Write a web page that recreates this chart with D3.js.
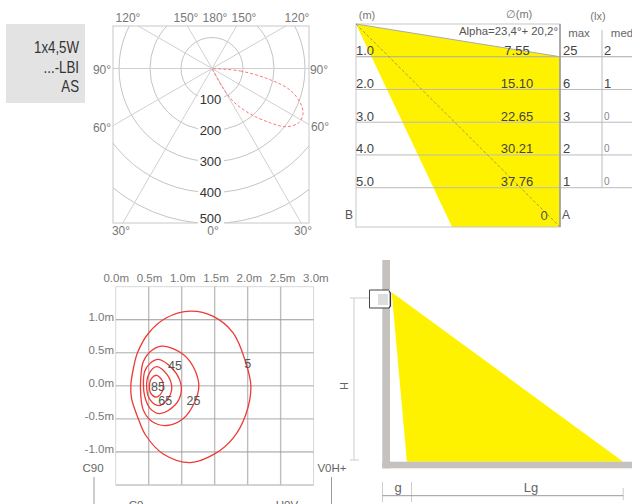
<!DOCTYPE html>
<html>
<head>
<meta charset="utf-8">
<script src="https://cdn.jsdelivr.net/npm/d3@7"></script>
<style>
  html, body { margin: 0; padding: 0; background: #fff; overflow: hidden; }
  text { font-family: "Liberation Sans", Arial, sans-serif; fill: #4a4a4a; }
</style>
</head>
<body>
<svg id="chart" width="632" height="504"></svg>
<script>
// product tag
const productLines = ['1x4,5W', '...-LBI', 'AS'];

// polar diagram (cd)
const polarRings = [100, 200, 300, 400, 500];
const polarSpokes = [30, 60, 90, 120, 150];
const polarLobe = [
  [90, 0], [85, 92], [79, 192], [74.5, 262], [69, 304], [64, 327], [58, 330],
  [52, 305], [47, 257], [40, 191], [33, 128], [29, 67], [20, 0]
];

// distance table
const distances = [1, 2, 3, 4, 5];
const diameters = ['7.55', '15.10', '22.65', '30.21', '37.76'];
const luxMax = [25, 6, 3, 2, 1];
const luxMed = [2, 1, 0, 0, 0];
const beamDepth = 6.2;
const beamShape = [[6.2, 0], [0, 1], [0, 6.2], [3.28, 6.2]];

// isolux plan (m)
const planX = [0, 0.5, 1, 1.5, 2, 2.5, 3];
const planY = [1, 0.5, 0, -0.5, -1];
const iso5 = [[1.13, 1.13], [1.48, 1.05], [1.78, 0.8], [1.96, 0.39], [2.05, -0.01], [1.97, -0.44], [1.78, -0.79], [1.5, -1.03], [1.13, -1.16], [0.72, -1.03], [0.45, -0.74], [0.34, -0.49], [0.24, -0.19], [0.23, 0.02], [0.27, 0.27], [0.33, 0.5], [0.5, 0.8], [0.77, 1.03]];
const iso25 = [[0.72, 0.6], [1.03, 0.47], [1.2, 0.24], [1.26, -0.01], [1.2, -0.24], [1.03, -0.49], [0.77, -0.6], [0.55, -0.54], [0.42, -0.37], [0.38, -0.14], [0.38, 0.12], [0.42, 0.37], [0.55, 0.54]];
const iso45 = [[0.65, 0.4], [0.85, 0.27], [0.97, 0.09], [0.99, -0.11], [0.9, -0.29], [0.67, -0.42], [0.52, -0.34], [0.44, -0.16], [0.42, 0.02], [0.44, 0.22], [0.52, 0.34]];
const iso65 = [[0.62, 0.29], [0.78, 0.17], [0.85, -0.04], [0.78, -0.21], [0.65, -0.3], [0.52, -0.21], [0.47, -0.04], [0.5, 0.17]];
const iso85 = [[0.62, 0.16], [0.71, 0.07], [0.72, -0.04], [0.67, -0.14], [0.61, -0.17], [0.53, -0.11], [0.51, 0], [0.54, 0.11]];
const isoLines = [iso5, iso25, iso45, iso65, iso85];
const isoLabels = [['5', 2.0, 0.33], ['25', 1.18, -0.23], ['45', 0.9, 0.3], ['65', 0.75, -0.23], ['85', 0.64, -0.01]];

// side view, in units of mounting height
const sideG = 0.09;
const sideL = 1.37;

const svg = d3.select('#chart');
const label = (g, x, y, str, size, anchor) => g.append('text')
  .attr('x', x).attr('y', y)
  .attr('text-anchor', anchor || 'middle')
  .attr('dominant-baseline', 'central')
  .attr('font-size', size)
  .text(str);

// Tag box
svg.append('rect').attr('x', 6).attr('y', 24).attr('width', 79).attr('height', 79).attr('fill', '#e3e3e3');
const tagY = d3.scalePoint().domain(productLines).range([48, 87]);
productLines.forEach(s => {
  // no narrow face installed, so squeeze the regular one
  label(svg, 0, 0, s, 16, 'end')
    .attr('transform', `translate(79,${tagY(s)}) scale(0.83,1)`)
    .style('fill', '#333');
});

// Polar diagram
function drawPolar() {
  const cx = 212, cy = 68.5;
  const r = d3.scaleLinear().domain([0, 500]).range([0, 155]);
  const g = svg.append('g');
  svg.append('clipPath').attr('id', 'polar-clip').append('rect')
    .attr('x', 113).attr('y', 26).attr('width', 196).attr('height', 197);
  const inner = g.append('g').attr('clip-path', 'url(#polar-clip)');
  const c = inner.append('g').attr('transform', `translate(${cx},${cy})`);

  polarRings.forEach(v => {
    c.append('circle').attr('r', r(v)).attr('fill', 'none').attr('stroke', '#c4c4c4').attr('stroke-width', 1);
  });
  polarSpokes.forEach(a => {
    const t = a * Math.PI / 180;
    [-1, 1].forEach(side => {
      c.append('line')
        .attr('x2', side * 300 * Math.sin(t))
        .attr('y2', 300 * Math.cos(t))
        .attr('stroke', '#d0d0d0').attr('stroke-width', 1);
    });
  });
  g.append('rect').attr('x', 113).attr('y', 26).attr('width', 196).attr('height', 197)
    .attr('fill', 'none').attr('stroke', '#c8c8c8');

  const lobe = d3.lineRadial()
    .angle(d => Math.PI - d[0] * Math.PI / 180)
    .radius(d => r(d[1]))
    .curve(d3.curveCatmullRomClosed);
  c.append('path').attr('d', lobe(polarLobe))
    .attr('fill', 'none').attr('stroke', '#f77').attr('stroke-width', 1).attr('stroke-dasharray', '3,2');

  polarRings.forEach(v => {
    const y = cy + Math.min(r(v), 149.5);
    g.append('rect').attr('x', cx - 14).attr('y', y - 6).attr('width', 26).attr('height', 12).attr('fill', '#fff');
    label(g, cx - 1.5, y, v, 13).style('fill', '#333');
  });

  [['120°', 128, 18], ['150°', 186, 18], ['180°', 215, 18], ['150°', 244, 18], ['120°', 297, 18],
   ['90°', 102, 69.5], ['90°', 319, 69.5], ['60°', 102, 128], ['60°', 320, 127],
   ['30°', 121, 231], ['0°', 213, 231], ['30°', 303, 231]]
    .forEach(d => label(g, d[1], d[2], d[0], 12).style('fill', '#777'));
}

// Distance / lux table
function drawBeam() {
  const g = svg.append('g');
  const x = d3.scaleLinear().domain([beamDepth, 0]).range([356, 560]);
  const y = d3.scaleLinear().domain([0, beamDepth]).range([24, 227]);

  g.append('polygon')
    .attr('points', beamShape.map(d => [x(d[0]), y(d[1])].join(',')).join(' '))
    .attr('fill', '#fff200');

  distances.forEach((d, i) => {
    g.append('line').attr('x1', 356).attr('x2', 632).attr('y1', y(d)).attr('y2', y(d))
      .attr('stroke', i === 0 ? '#aaa' : '#bbb');
  });
  g.append('rect').attr('x', x(beamDepth)).attr('y', y(0)).attr('width', x(0) - x(beamDepth)).attr('height', y(beamDepth) - y(0))
    .attr('fill', 'none').attr('stroke', '#c8c8c8');
  g.append('line').attr('x1', x(beamDepth)).attr('x2', x(0)).attr('y1', y(0)).attr('y2', y(1))
    .attr('stroke', '#aaa');
  g.append('line').attr('x1', x(beamDepth)).attr('x2', x(0)).attr('y1', y(0)).attr('y2', y(beamDepth))
    .attr('stroke', '#a89f40').attr('stroke-dasharray', '3,2');
  g.append('line').attr('x1', x(0)).attr('x2', x(0)).attr('y1', y(0)).attr('y2', y(beamDepth))
    .attr('stroke', '#999').attr('stroke-width', 1.5);
  g.append('line').attr('x1', 602).attr('x2', 602).attr('y1', 30).attr('y2', y(5)).attr('stroke', '#bbb');

  distances.forEach((d, i) => {
    const ty = y(d) - 6;
    label(g, 356, ty, d.toFixed(1), 13, 'start').style('fill', '#444');
    label(g, 517, ty, diameters[i], 13).style('fill', '#444');
    label(g, 563, ty, luxMax[i], 13, 'start').style('fill', '#444');
    label(g, 604, ty, luxMed[i], luxMed[i] ? 13 : 10, 'start').style('fill', luxMed[i] ? '#444' : '#888');
  });

  label(g, 367, 15, '(m)', 11).style('fill', '#777');
  label(g, 519, 14, '∅(m)', 11).style('fill', '#777');
  label(g, 598, 16, '(lx)', 11).style('fill', '#777');
  label(g, 579, 33, 'max', 11.5).style('fill', '#666');
  label(g, 622, 33, 'med', 11.5).style('fill', '#666');
  label(g, 558, 31, 'Alpha=23,4°+ 20,2°', 11.4, 'end').style('fill', '#555');
  label(g, 349, 215, 'B', 12).style('fill', '#555');
  label(g, 566, 215, 'A', 12).style('fill', '#555');
  label(g, 544, 215, '0', 13).style('fill', '#555');
}

// Isolux plan
function drawPlan() {
  const g = svg.append('g');
  const x = d3.scaleLinear().domain([0, 3]).range([115.7, 313.6]);
  const y = d3.scaleLinear().domain([1.5, -1.5]).range([286.7, 485]);

  g.append('path').attr('d', `M${x(0)},${y(1.5)}H${x(3)}V${y(-1.5)}H${x(0)}Z`)
    .attr('fill', 'none').attr('stroke', '#d8d8d8');
  g.append('line').attr('x1', x(0)).attr('x2', x(3)).attr('y1', y(-1.5)).attr('y2', y(-1.5)).attr('stroke', '#bbb');
  planX.slice(1, 6).forEach(v => {
    g.append('line').attr('x1', x(v)).attr('x2', x(v)).attr('y1', y(1.5)).attr('y2', y(-1.5))
      .attr('stroke', '#bdbdbd').attr('stroke-width', 1.4);
  });
  planY.forEach(v => {
    g.append('line').attr('x1', x(0)).attr('x2', x(3)).attr('y1', y(v)).attr('y2', y(v))
      .attr('stroke', Math.abs(v) === 1 ? '#999' : '#aaa').attr('stroke-width', 1);
  });

  const line = d3.line().x(d => x(d[0])).y(d => y(d[1])).curve(d3.curveCatmullRomClosed);
  isoLines.forEach(pts => {
    g.append('path').attr('d', line(pts)).attr('fill', 'none').attr('stroke', '#ee3a36').attr('stroke-width', 1.3);
  });
  isoLabels.forEach(d => label(g, x(d[1]), y(d[2]), d[0], 12.5).style('fill', '#555'));

  planX.forEach(v => label(g, x(v) + 0.5 + v * 0.6, 277.5, v.toFixed(1) + 'm', 11.5).style('fill', '#777'));
  planY.forEach(v => label(g, 114, y(v) - 2.5, v.toFixed(1) + 'm', 11.5, 'end').style('fill', '#777'));

  label(g, 93, 468, 'C90', 11.5).style('fill', '#666');
  label(g, 332, 468, 'V0H+', 11.5).style('fill', '#666');
  g.append('line').attr('x1', 94).attr('x2', 94).attr('y1', 477).attr('y2', 504).attr('stroke', '#999');
  g.append('line').attr('x1', 331.5).attr('x2', 331.5).attr('y1', 477).attr('y2', 504).attr('stroke', '#999');
  // these two run off the page in the original too
  label(g, 136, 505, 'C0', 11.5).style('fill', '#666');
  label(g, 287, 505, 'H0V', 11.5).style('fill', '#666');
}

// Side view
function drawSide() {
  const g = svg.append('g');
  const x = d3.scaleLinear().domain([0, 1]).range([391.7, 560.7]);
  const y = d3.scaleLinear().domain([0, 1]).range([292.3, 461.7]);

  g.append('polygon')
    .attr('points', [[0, 0], [sideL, 1], [sideG, 1]].map(d => [x(d[0]), y(d[1])].join(',')).join(' '))
    .attr('fill', '#fff200');
  g.append('rect').attr('x', 382.3).attr('y', 260).attr('width', 7.7).attr('height', 208.3).attr('fill', '#c5c1be');
  g.append('rect').attr('x', 382.3).attr('y', 461.7).attr('width', 249.7).attr('height', 6.6).attr('fill', '#c5c1be');

  // luminaire
  g.append('path').attr('d', 'M389,290H369.5V308H389').attr('fill', '#fff').attr('stroke', '#444');
  g.append('rect').attr('x', 378).attr('y', 294).attr('width', 10).attr('height', 11).attr('fill', '#ddd');
  g.append('path').attr('d', 'M389,291L390.5,293V306L389,308').attr('fill', 'none').attr('stroke', '#333').attr('stroke-width', 1.2);

  // dimensions
  g.append('path').attr('d', 'M350,298H369M354,298V460M350,460H359').attr('fill', 'none').attr('stroke', '#ccc');
  label(g, 0, 0, 'H', 11)
    .attr('transform', 'translate(344,386) rotate(-90)').style('fill', '#666');
  g.append('path').attr('d', `M382.5,482V502M411.5,482V502M${x(sideL)},488V500`)
    .attr('fill', 'none').attr('stroke', '#ccc');
  g.append('line').attr('x1', 382.5).attr('x2', x(sideL)).attr('y1', 495.7).attr('y2', 495.7).attr('stroke', '#999');
  label(g, 398, 487, 'g', 13).style('fill', '#666');
  label(g, 531, 487, 'Lg', 13).style('fill', '#666');
}

drawPolar();
drawBeam();
drawPlan();
drawSide();
</script>
</body>
</html>
